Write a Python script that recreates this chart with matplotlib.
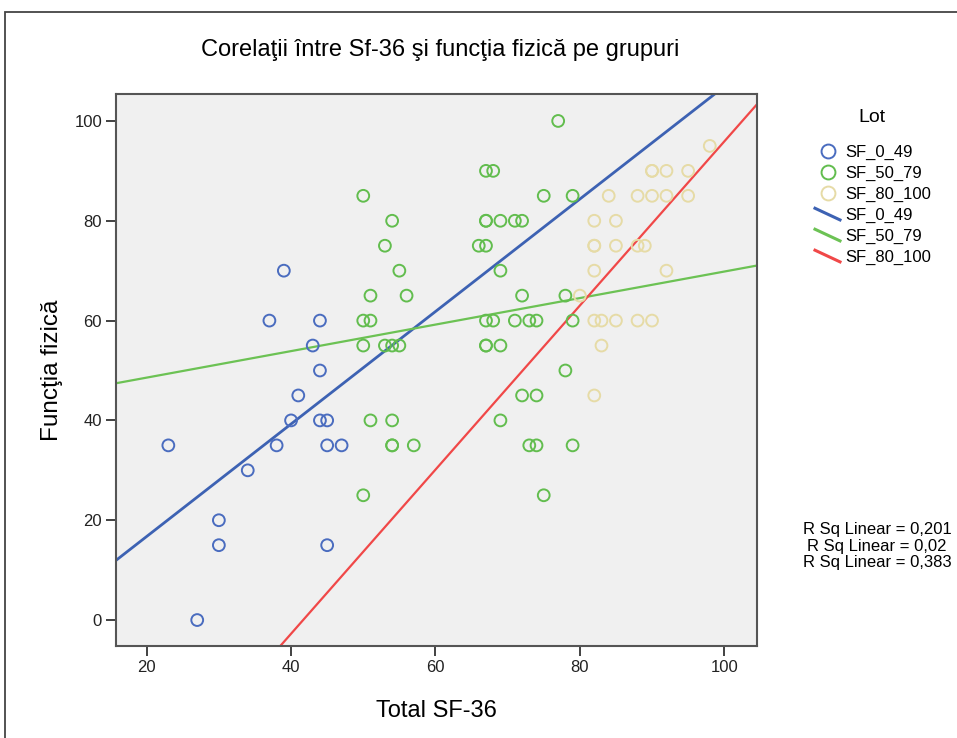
import numpy as np
import matplotlib
matplotlib.use("Agg")
import matplotlib.pyplot as plt
from matplotlib.lines import Line2D
from matplotlib.legend_handler import HandlerBase
from matplotlib.patches import Rectangle

plt.rcParams['font.family'] = ['Liberation Sans', 'DejaVu Sans']

# date (Total SF-36, Functia fizica)
x_0_49 = [39, 37, 44, 43, 44, 41, 40, 44, 45, 23, 38, 45, 47, 34, 30, 30, 45, 27]
y_0_49 = [70, 60, 60, 55, 50, 45, 40, 40, 40, 35, 35, 35, 35, 30, 20, 15, 15, 0]

x_50_79 = [77, 67, 68, 50, 75, 79, 54, 67, 67, 69, 71, 72, 53, 66, 67, 55, 69,
           51, 56, 72, 78, 50, 51, 67, 68, 71, 73, 74, 79, 50, 53, 54, 55, 67,
           67, 69, 78, 72, 74, 51, 54, 69, 54, 54, 57, 73, 74, 79, 50, 75]
y_50_79 = [100, 90, 90, 85, 85, 85, 80, 80, 80, 80, 80, 80, 75, 75, 75, 70, 70,
           65, 65, 65, 65, 60, 60, 60, 60, 60, 60, 60, 60, 55, 55, 55, 55, 55,
           55, 55, 50, 45, 45, 40, 40, 40, 35, 35, 35, 35, 35, 35, 25, 25]

x_80_100 = [98, 90, 90, 92, 95, 84, 88, 90, 92, 95, 82, 85, 82, 82, 85, 88, 89,
            82, 92, 80, 82, 83, 85, 88, 90, 83, 82]
y_80_100 = [95, 90, 90, 90, 90, 85, 85, 85, 85, 85, 80, 80, 75, 75, 75, 75, 75,
            70, 70, 65, 60, 60, 60, 60, 60, 55, 45]

grupe = ['SF_0_49', 'SF_50_79', 'SF_80_100']
r_sq = ['0,201', '0,02', '0,383']

culori_puncte = ['#4a6cbf', '#62bd4e', '#e6dba6']
culori_linii = ['#3d62b3', '#6cc254', '#f04848']

fig = plt.figure(figsize=(9.57, 7.38), dpi=100)
fig.patches.append(Rectangle((5 / 957, -0.1), 1.2, 1 - 12 / 738 + 0.1,
                             transform=fig.transFigure, fill=False,
                             edgecolor='#444444', linewidth=1.3))

ax = fig.add_axes([116 / 957, 1 - 646 / 738, 640.7 / 957, 552 / 738])
ax.set_facecolor('#f0f0f0')

xlim = (15.75, 104.5)
date = [(x_0_49, y_0_49), (x_50_79, y_50_79), (x_80_100, y_80_100)]
for (xs, ys), cp in zip(date, culori_puncte):
    ax.scatter(xs, ys, s=72, facecolors='none', edgecolors=cp, linewidths=1.4, zorder=3)

# dreptele de regresie pe fiecare grup
xx = np.array(xlim)
for (xs, ys), cl in zip(date, culori_linii):
    b, a = np.polyfit(xs, ys, 1)
    ax.plot(xx, a + b * xx, color=cl, linewidth=2.0 if cl == culori_linii[0] else 1.6, zorder=2)

ax.set_xlim(*xlim)
ax.set_ylim(-5.2, 105.4)
ax.set_xticks([20, 40, 60, 80, 100])
ax.set_yticks([0, 20, 40, 60, 80, 100])
ax.tick_params(direction='out', length=7, width=1.3, color='#333333', labelsize=12,
               labelcolor='#222222', pad=3)
for s in ax.spines.values():
    s.set_color('#555555')
    s.set_linewidth(1.5)

ax.set_xlabel('Total SF-36', fontsize=17, labelpad=18)
ax.set_ylabel('Funcţia fizică', fontsize=17.5, labelpad=8)
fig.text(440 / 957, 1 - 50 / 738, 'Corelaţii între Sf-36 şi funcţia fizică pe grupuri',
         ha='center', va='center', fontsize=17)


class HandlerDiag(HandlerBase):
    def create_artists(self, legend, orig, xd, yd, w, h, fontsize, trans):
        ln = Line2D([xd, xd + w], [yd + h, yd], color=orig.get_color(),
                    linewidth=orig.get_linewidth())
        ln.set_transform(trans)
        return [ln]


handles = []
for cp in culori_puncte:
    handles.append(Line2D([], [], linestyle='none', marker='o', markersize=10,
                          markerfacecolor='none', markeredgecolor=cp, markeredgewidth=1.4))
linii = [Line2D([], [], color=cl, linewidth=2.2) for cl in culori_linii]
handles += linii
labels = grupe + grupe
hm = {l: HandlerDiag() for l in linii}
fig.text(872 / 957, 1 - 118 / 738, 'Lot', ha='center', va='center', fontsize=14)
leg = fig.legend(handles, labels, loc='upper left',
                 bbox_to_anchor=(800 / 957, 1 - 130 / 738), frameon=False,
                 fontsize=12, handlelength=1.5,
                 handletextpad=0.3, labelspacing=0.35, handler_map=hm)

fig.text(877 / 957, 1 - 546 / 738,
         '\n'.join('R Sq Linear = ' + r for r in r_sq),
         ha='center', va='center', multialignment='center', fontsize=12,
         linespacing=1.12)

fig.savefig('out.png', dpi=100)
